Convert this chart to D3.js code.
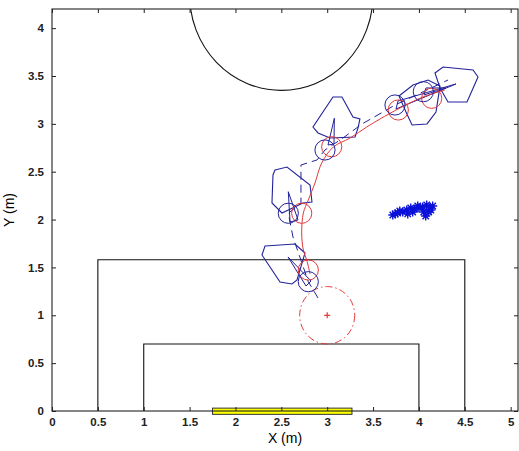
<!DOCTYPE html>
<html>
<head>
<meta charset="utf-8">
<script src="https://cdn.jsdelivr.net/npm/d3@7"></script>
<style>
  body { margin: 0; background: #fff; }
  svg { display: block; font-family: "Liberation Sans", Arial, sans-serif; }
  .tick text { font-size: 11.5px; font-weight: bold; fill: #222; }
</style>
</head>
<body>
<svg></svg>
<script>
//tick labels
var xTicks = [0, 0.5, 1, 1.5, 2, 2.5, 3, 3.5, 4, 4.5, 5];
var yTicks = [0, 0.5, 1, 1.5, 2, 2.5, 3, 3.5, 4];

//field lines
var outerBox = [[0.5, 0], [0.5, 1.58], [4.5, 1.58], [4.5, 0]];
var innerBox = [[1, 0], [1, 0.7], [4, 0.7], [4, 0]];
var centreCircle = { cx: 2.5, cy: 4.35, r: 1 };
var goal = { x0: 1.75, x1: 3.27, y0: -0.035, y1: 0.03 };

//start zone
var startZone = { cx: 3, cy: 1, r: 0.3 };

//red reference path
var truePath = [[2.813, 1.431], [2.777, 1.578], [2.740, 1.682], [2.722, 1.860], [2.740, 2.069],
  [2.794, 2.205], [2.867, 2.382], [2.940, 2.591], [3.067, 2.758], [3.249, 2.852],
  [3.431, 2.967], [3.576, 3.051], [3.794, 3.166], [4.045, 3.281], [4.284, 3.354]];
var trueCircles = [[2.794, 1.473], [2.722, 2.066], [3.049, 2.761], [3.775, 3.145], [4.139, 3.267]];

//blue estimated path
var estPath = [[2.900, 1.181], [2.794, 1.351], [2.627, 1.818], [2.576, 2.066], [2.714, 2.173],
  [2.714, 2.570], [2.889, 2.623], [2.976, 2.727], [3.172, 2.852], [3.380, 2.999],
  [3.608, 3.124], [3.739, 3.197], [4.048, 3.336], [4.317, 3.458]];
var estCircles = [[2.794, 1.351], [2.576, 2.066], [2.976, 2.727], [3.739, 3.197], [4.048, 3.336]];
var circleRadius = 0.11;

//uncertainty regions
var regions = [
  [[2.322, 1.724], [2.649, 1.745], [2.758, 1.651], [2.671, 1.369], [2.616, 1.327], [2.486, 1.348], [2.289, 1.630]],
  [[2.431, 2.518], [2.562, 2.549], [2.813, 2.361], [2.834, 2.184], [2.736, 2.173], [2.507, 2.069], [2.398, 2.173], [2.409, 2.466]],
  [[3.063, 3.281], [3.161, 3.281], [3.281, 3.072], [3.357, 3.051], [3.336, 2.957], [3.303, 2.863], [3.031, 2.852], [2.900, 2.905], [2.845, 2.967]],
  [[3.783, 3.291], [3.935, 3.406], [4.099, 3.458], [4.230, 3.396], [4.186, 3.124], [4.088, 2.999], [3.925, 2.988], [3.859, 3.124]],
  [[4.175, 3.532], [4.263, 3.594], [4.590, 3.563], [4.644, 3.490], [4.524, 3.229], [4.317, 3.229], [4.230, 3.375]]
];

//heading wedges
var headings = [
  [[2.573, 1.609], [2.769, 1.306], [2.824, 1.358]],
  [[2.576, 2.291], [2.595, 1.975], [2.682, 1.996]],
  [[3.078, 3.058], [3.009, 2.779], [3.074, 2.790]],
  [[4.404, 3.417], [3.750, 3.155], [3.772, 3.239]],
  [[4.295, 3.375], [4.055, 3.302], [4.077, 3.375]]
];

//landmark particles
var particles = [[3.715, 2.048], [3.769, 2.069], [3.824, 2.079], [3.867, 2.100], [3.911, 2.121],
  [3.954, 2.111], [3.987, 2.142], [3.932, 2.079], [4.041, 2.132], [4.085, 2.153],
  [4.118, 2.121], [4.150, 2.142], [4.052, 2.079], [4.074, 2.038], [4.107, 2.079],
  [3.878, 2.059], [3.791, 2.090], [3.740, 2.060], [4.000, 2.120], [4.130, 2.100]];

//set the dimensions and margins of the graph
var margin = {top: 9, right: 1, bottom: 40, left: 52},
  width = 519 - margin.left - margin.right,
  height = 451 - margin.top - margin.bottom;

var svg = d3.select('svg')
  .attr("width", 519)
  .attr("height", 451)
  .append("g")
  .attr("transform", "translate(" + margin.left + "," + margin.top + ")");

var x = d3.scaleLinear().domain([0, 5.08]).range([0, width]);
var y = d3.scaleLinear().domain([0, 4.2]).range([height, 0]);

var line = d3.line()
  .x(function(d) { return x(d[0]); })
  .y(function(d) { return y(d[1]); });

svg.append("clipPath").attr("id", "plotclip")
  .append("rect").attr("width", width).attr("height", height);

var blue = "#22229a";
var red = "#e23a3a";

//field
svg.append("path").attr("d", line(outerBox)).attr("fill", "none").attr("stroke", "#111").attr("stroke-width", 1.1);
svg.append("path").attr("d", line(innerBox)).attr("fill", "none").attr("stroke", "#111").attr("stroke-width", 1.1);
svg.append("ellipse")
  .attr("clip-path", "url(#plotclip)")
  .attr("cx", x(centreCircle.cx))
  .attr("cy", y(centreCircle.cy))
  .attr("rx", x(centreCircle.r) - x(0))
  .attr("ry", y(0) - y(centreCircle.r))
  .attr("fill", "none").attr("stroke", "#111").attr("stroke-width", 1.1);

//start zone
svg.append("ellipse")
  .attr("cx", x(startZone.cx))
  .attr("cy", y(startZone.cy))
  .attr("rx", x(startZone.r) - x(0))
  .attr("ry", y(0) - y(startZone.r))
  .attr("fill", "none").attr("stroke", red).attr("stroke-width", 1)
  .attr("stroke-dasharray", "7,3,1.5,3");
svg.append("path")
  .attr("d", "M" + (x(startZone.cx) - 3) + "," + y(startZone.cy) + "h6M" + x(startZone.cx) + "," + (y(startZone.cy) - 3) + "v6")
  .attr("stroke", red).attr("stroke-width", 1.2);

//uncertainty regions
svg.selectAll(".region")
  .data(regions)
  .enter().append("path")
  .attr("class", "region")
  .attr("d", function(d) { return line(d) + "Z"; })
  .attr("fill", "none").attr("stroke", blue).attr("stroke-width", 1.1);

//headings
svg.selectAll(".heading")
  .data(headings)
  .enter().append("path")
  .attr("class", "heading")
  .attr("d", function(d) { return line(d) + "Z"; })
  .attr("fill", "none").attr("stroke", blue).attr("stroke-width", 1);

//estimated path
svg.append("path")
  .attr("d", line(estPath))
  .attr("fill", "none").attr("stroke", blue).attr("stroke-width", 1)
  .attr("stroke-dasharray", "8,5");

//reference path
svg.append("path")
  .attr("d", line.curve(d3.curveCatmullRom)(truePath))
  .attr("fill", "none").attr("stroke", red).attr("stroke-width", 1);
line.curve(d3.curveLinear);

var rpx = x(circleRadius) - x(0);
svg.selectAll(".truec")
  .data(trueCircles)
  .enter().append("circle")
  .attr("class", "truec")
  .attr("cx", function(d) { return x(d[0]); })
  .attr("cy", function(d) { return y(d[1]); })
  .attr("r", rpx)
  .attr("fill", "none").attr("stroke", red).attr("stroke-width", 1);

svg.selectAll(".estc")
  .data(estCircles)
  .enter().append("circle")
  .attr("class", "estc")
  .attr("cx", function(d) { return x(d[0]); })
  .attr("cy", function(d) { return y(d[1]); })
  .attr("r", rpx)
  .attr("fill", "none").attr("stroke", blue).attr("stroke-width", 1);

//particles drawn as asterisks
var star = "M-4.5,0h9M0,-4.5v9M-3.2,-3.2l6.4,6.4M-3.2,3.2l6.4,-6.4";
svg.selectAll(".particle")
  .data(particles)
  .enter().append("path")
  .attr("class", "particle")
  .attr("transform", function(d) { return "translate(" + x(d[0]) + "," + y(d[1]) + ")"; })
  .attr("d", star)
  .attr("stroke", "#0a10d8").attr("stroke-width", 1.4);

//goal
svg.append("rect")
  .attr("x", x(goal.x0))
  .attr("y", y(goal.y1))
  .attr("width", x(goal.x1) - x(goal.x0))
  .attr("height", y(goal.y0) - y(goal.y1))
  .attr("fill", "#ffff00").attr("stroke", "#333").attr("stroke-width", 1);

//axes, ticks pointing inward
var fmt = function(d) { return String(d); };
svg.append("g")
  .attr("transform", "translate(0," + height + ")")
  .call(d3.axisBottom(x).tickValues(xTicks).tickFormat(fmt).tickSize(-4).tickPadding(7))
  .call(function(g) { g.select(".domain").remove(); });
svg.append("g")
  .call(d3.axisTop(x).tickValues(xTicks).tickFormat("").tickSize(-4))
  .call(function(g) { g.select(".domain").remove(); });
svg.append("g")
  .call(d3.axisLeft(y).tickValues(yTicks).tickFormat(fmt).tickSize(-4).tickPadding(8))
  .call(function(g) { g.select(".domain").remove(); });
svg.append("g")
  .attr("transform", "translate(" + width + ",0)")
  .call(d3.axisRight(y).tickValues(yTicks).tickFormat("").tickSize(-4))
  .call(function(g) { g.select(".domain").remove(); });

svg.selectAll(".tick line").attr("stroke", "#222");

//plot box
svg.append("rect")
  .attr("width", width).attr("height", height)
  .attr("fill", "none").attr("stroke", "#222").attr("stroke-width", 1.1);

//axis labels
svg.append("text")
  .attr("x", width / 2)
  .attr("y", height + 32)
  .attr("text-anchor", "middle")
  .style("font-size", "14px")
  .text("X (m)");
svg.append("text")
  .attr("transform", "translate(-38," + (height / 2) + ") rotate(-90)")
  .attr("text-anchor", "middle")
  .style("font-size", "14px")
  .text("Y (m)");
</script>
</body>
</html>
